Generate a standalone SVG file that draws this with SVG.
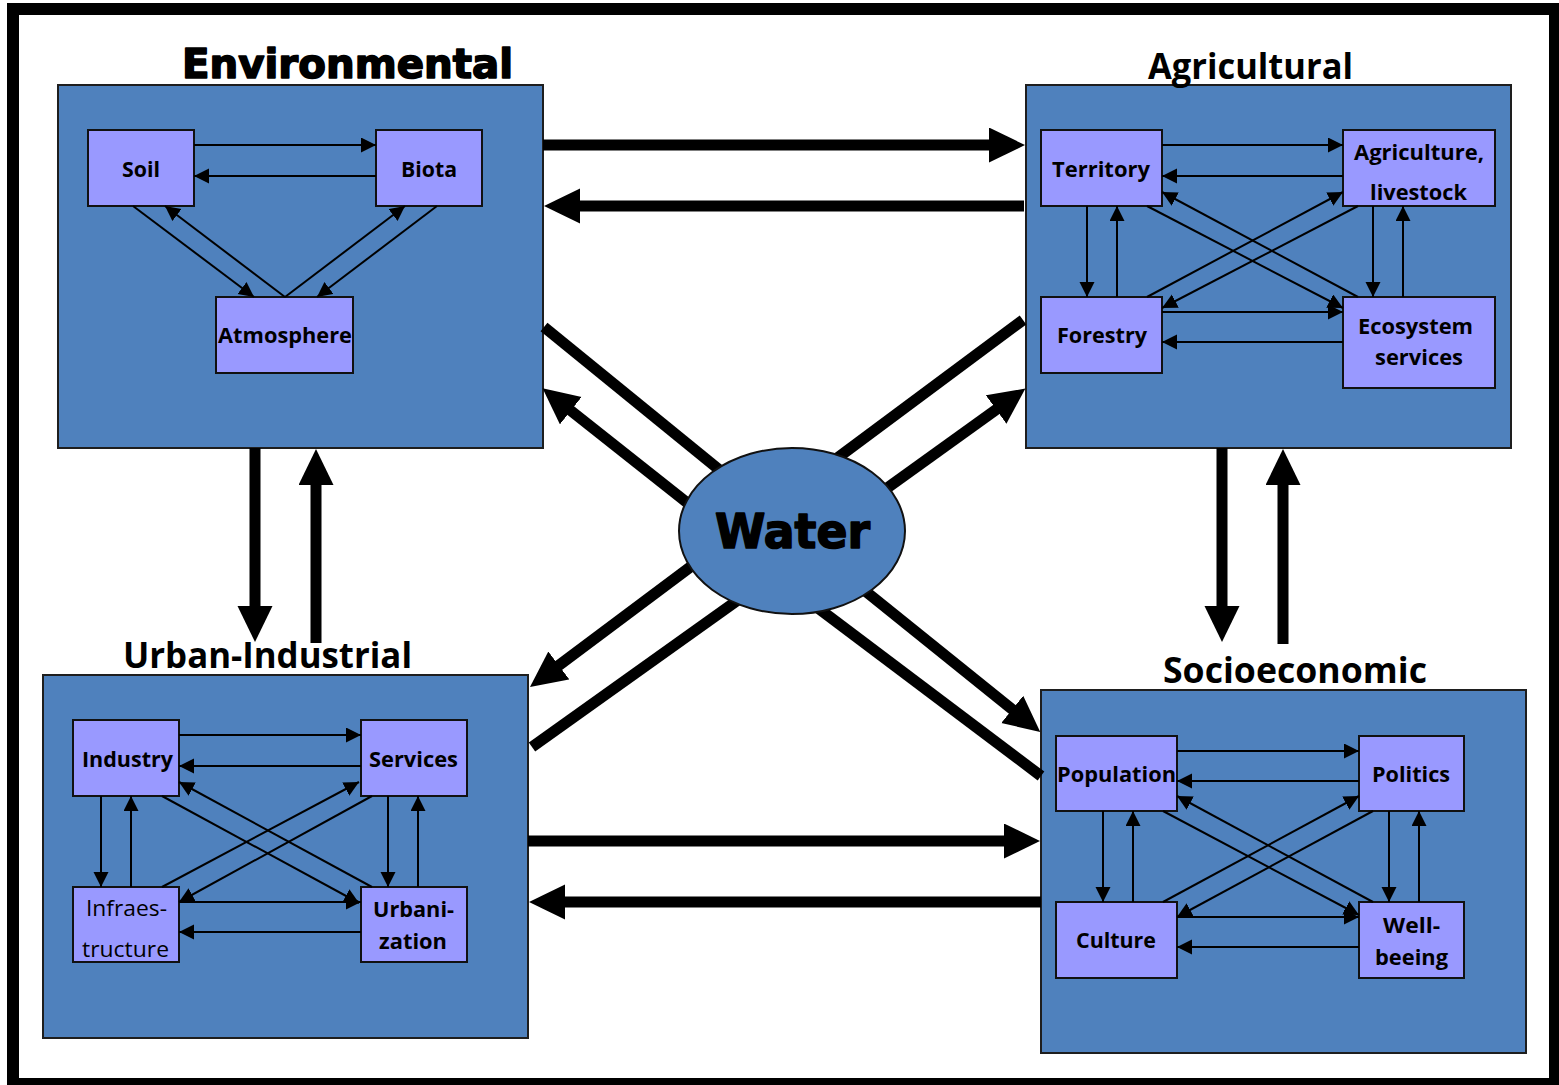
<svg xmlns="http://www.w3.org/2000/svg" width="1559" height="1085" viewBox="0 0 1559 1085">
  <defs>
    <style>
      .frame { fill: #ffffff; stroke: #000000; stroke-width: 12; }
      .sector { fill: #4f81bd; stroke: #1e1e1e; stroke-width: 2; }
      .node { fill: #9999ff; stroke: #111111; stroke-width: 2; }
      .title { font-family: "Open Sans", "Liberation Sans", sans-serif; font-weight: 700; font-size: 36px; fill: #000; }
      .heavy { font-family: "DejaVu Sans", "Liberation Sans", sans-serif; font-weight: 700; fill: #000; stroke: #000; stroke-width: 1.6; stroke-linejoin: round; }
      .lbl { font-family: "Open Sans", "Liberation Sans", sans-serif; font-weight: 700; font-size: 22px; fill: #000; }
      .lbl-r { font-family: "Open Sans", "Liberation Sans", sans-serif; font-weight: 400; font-size: 22px; fill: #000; }
      .thin { stroke: #000; stroke-width: 2; fill: none; marker-end: url(#ah); }
      .thick { stroke: #000; stroke-width: 11; fill: none; }
      .thick-a { stroke: #000; stroke-width: 11; fill: none; marker-end: url(#AH); }
      .water { fill: #4f81bd; stroke: #111111; stroke-width: 2; }
    </style>
    <marker id="ah" markerUnits="userSpaceOnUse" viewBox="0 0 16 16" markerWidth="16" markerHeight="16" refX="15" refY="7.5" orient="auto">
      <path d="M0,0 L15,7.5 L0,15 z" fill="#000"/>
    </marker>
    <marker id="AH" markerUnits="userSpaceOnUse" viewBox="0 0 37 36" markerWidth="37" markerHeight="36" refX="1" refY="17.5" orient="auto">
      <path d="M0,0 L36,17.5 L0,35 z" fill="#000"/>
    </marker>
  </defs>

  <!-- outer frame -->
  <rect class="frame" x="13" y="9" width="1542" height="1075"/>

  <!-- sector containers -->
  <g id="environmental">
    <rect class="sector" x="58" y="85" width="485" height="363"/>
    <text class="heavy" x="182" y="78" font-size="40" textLength="331" lengthAdjust="spacingAndGlyphs">Environmental</text>
  </g>
  <g id="agricultural">
    <rect class="sector" x="1026" y="85" width="485" height="363"/>
    <text class="title" x="1148" y="79" textLength="205" lengthAdjust="spacingAndGlyphs">Agricultural</text>
  </g>
  <g id="urban-industrial">
    <rect class="sector" x="43" y="675" width="485" height="363"/>
    <text class="title" x="123" y="668" textLength="289" lengthAdjust="spacingAndGlyphs">Urban-Industrial</text>
  </g>
  <g id="socioeconomic">
    <rect class="sector" x="1041" y="690" width="485" height="363"/>
    <text class="title" x="1163" y="683" textLength="264" lengthAdjust="spacingAndGlyphs">Socioeconomic</text>
  </g>

  <!-- environmental nodes -->
  <g id="soil">
    <rect class="node" x="88" y="130" width="106" height="76"/>
    <text class="lbl" x="122" y="177" textLength="38" lengthAdjust="spacingAndGlyphs">Soil</text>
  </g>
  <g id="biota">
    <rect class="node" x="376" y="130" width="106" height="76"/>
    <text class="lbl" x="401" y="177" textLength="56" lengthAdjust="spacingAndGlyphs">Biota</text>
  </g>
  <g id="atmosphere">
    <rect class="node" x="216" y="297" width="137" height="76"/>
    <text class="lbl" x="218" y="343" textLength="134" lengthAdjust="spacingAndGlyphs">Atmosphere</text>
  </g>

  <!-- agricultural nodes -->
  <g id="territory">
    <rect class="node" x="1041" y="130" width="121" height="76"/>
    <text class="lbl" x="1052" y="177" textLength="98" lengthAdjust="spacingAndGlyphs">Territory</text>
  </g>
  <g id="agriculture-livestock">
    <rect class="node" x="1343" y="130" width="152" height="76"/>
    <text class="lbl" x="1354" y="160" textLength="130" lengthAdjust="spacingAndGlyphs">Agriculture,</text>
    <text class="lbl" x="1370" y="200" textLength="97" lengthAdjust="spacingAndGlyphs">livestock</text>
  </g>
  <g id="forestry">
    <rect class="node" x="1041" y="297" width="121" height="76"/>
    <text class="lbl" x="1057" y="343" textLength="90" lengthAdjust="spacingAndGlyphs">Forestry</text>
  </g>
  <g id="ecosystem-services">
    <rect class="node" x="1343" y="297" width="152" height="91"/>
    <text class="lbl" x="1358" y="334" textLength="115" lengthAdjust="spacingAndGlyphs">Ecosystem</text>
    <text class="lbl" x="1375" y="365" textLength="88" lengthAdjust="spacingAndGlyphs">services</text>
  </g>

  <!-- urban-industrial nodes -->
  <g id="industry">
    <rect class="node" x="73" y="720" width="106" height="76"/>
    <text class="lbl" x="82" y="767" textLength="91" lengthAdjust="spacingAndGlyphs">Industry</text>
  </g>
  <g id="services">
    <rect class="node" x="361" y="720" width="106" height="76"/>
    <text class="lbl" x="369" y="767" textLength="89" lengthAdjust="spacingAndGlyphs">Services</text>
  </g>
  <g id="infraestructure">
    <rect class="node" x="73" y="887" width="106" height="75"/>
    <text class="lbl-r" x="86" y="916" textLength="81" lengthAdjust="spacingAndGlyphs">Infraes-</text>
    <text class="lbl-r" x="82" y="957" textLength="87" lengthAdjust="spacingAndGlyphs">tructure</text>
  </g>
  <g id="urbanization">
    <rect class="node" x="361" y="887" width="106" height="75"/>
    <text class="lbl" x="373" y="917" textLength="81" lengthAdjust="spacingAndGlyphs">Urbani-</text>
    <text class="lbl" x="379" y="949" textLength="68" lengthAdjust="spacingAndGlyphs">zation</text>
  </g>

  <!-- socioeconomic nodes -->
  <g id="population">
    <rect class="node" x="1056" y="736" width="121" height="75"/>
    <text class="lbl" x="1057" y="782" textLength="119" lengthAdjust="spacingAndGlyphs">Population</text>
  </g>
  <g id="politics">
    <rect class="node" x="1359" y="736" width="105" height="75"/>
    <text class="lbl" x="1372" y="782" textLength="78" lengthAdjust="spacingAndGlyphs">Politics</text>
  </g>
  <g id="culture">
    <rect class="node" x="1056" y="902" width="121" height="76"/>
    <text class="lbl" x="1076" y="948" textLength="80" lengthAdjust="spacingAndGlyphs">Culture</text>
  </g>
  <g id="well-beeing">
    <rect class="node" x="1359" y="902" width="105" height="76"/>
    <text class="lbl" x="1383" y="933" textLength="57" lengthAdjust="spacingAndGlyphs">Well-</text>
    <text class="lbl" x="1375" y="965" textLength="73" lengthAdjust="spacingAndGlyphs">beeing</text>
  </g>

  <!-- connectors -->
  <g id="connectors">
    <!-- environmental internal links -->
    <line class="thin" x1="194" y1="145" x2="376" y2="145"/>
    <line class="thin" x1="376" y1="176" x2="194" y2="176"/>
    <line class="thin" x1="133" y1="206" x2="254" y2="297"/>
    <line class="thin" x1="285" y1="297" x2="165" y2="206"/>
    <line class="thin" x1="285" y1="297" x2="405" y2="206"/>
    <line class="thin" x1="437" y1="206" x2="317" y2="297"/>

    <!-- agricultural internal links -->
    <line class="thin" x1="1162" y1="145" x2="1343" y2="145"/>
    <line class="thin" x1="1343" y1="176" x2="1162" y2="176"/>
    <line class="thin" x1="1087" y1="206" x2="1087" y2="297"/>
    <line class="thin" x1="1117" y1="297" x2="1117" y2="206"/>
    <line class="thin" x1="1373" y1="206" x2="1373" y2="297"/>
    <line class="thin" x1="1403" y1="297" x2="1403" y2="206"/>
    <line class="thin" x1="1162" y1="312" x2="1343" y2="312"/>
    <line class="thin" x1="1343" y1="342" x2="1162" y2="342"/>
    <line class="thin" x1="1147" y1="206" x2="1343" y2="308"/>
    <line class="thin" x1="1358" y1="297" x2="1162" y2="192"/>
    <line class="thin" x1="1147" y1="297" x2="1343" y2="192"/>
    <line class="thin" x1="1358" y1="206" x2="1162" y2="308"/>

    <!-- urban-industrial internal links -->
    <line class="thin" x1="179" y1="735" x2="361" y2="735"/>
    <line class="thin" x1="361" y1="766" x2="179" y2="766"/>
    <line class="thin" x1="101" y1="796" x2="101" y2="887"/>
    <line class="thin" x1="131" y1="887" x2="131" y2="796"/>
    <line class="thin" x1="388" y1="796" x2="388" y2="887"/>
    <line class="thin" x1="418" y1="887" x2="418" y2="796"/>
    <line class="thin" x1="179" y1="902" x2="361" y2="902"/>
    <line class="thin" x1="361" y1="932" x2="179" y2="932"/>
    <line class="thin" x1="162" y1="796" x2="359" y2="903"/>
    <line class="thin" x1="372" y1="887" x2="179" y2="782"/>
    <line class="thin" x1="162" y1="887" x2="359" y2="782"/>
    <line class="thin" x1="372" y1="796" x2="179" y2="902"/>

    <!-- socioeconomic internal links -->
    <line class="thin" x1="1177" y1="751" x2="1359" y2="751"/>
    <line class="thin" x1="1359" y1="781" x2="1177" y2="781"/>
    <line class="thin" x1="1103" y1="811" x2="1103" y2="902"/>
    <line class="thin" x1="1133" y1="902" x2="1133" y2="811"/>
    <line class="thin" x1="1389" y1="811" x2="1389" y2="902"/>
    <line class="thin" x1="1419" y1="902" x2="1419" y2="811"/>
    <line class="thin" x1="1177" y1="917" x2="1359" y2="917"/>
    <line class="thin" x1="1359" y1="947" x2="1177" y2="947"/>
    <line class="thin" x1="1163" y1="811" x2="1359" y2="915"/>
    <line class="thin" x1="1373" y1="902" x2="1177" y2="796"/>
    <line class="thin" x1="1163" y1="902" x2="1359" y2="796"/>
    <line class="thin" x1="1373" y1="811" x2="1177" y2="917"/>

    <!-- sector to sector flows -->
    <line class="thick-a" x1="543" y1="145" x2="990" y2="145"/>
    <line class="thick-a" x1="1024" y1="206" x2="579" y2="206"/>
    <line class="thick-a" x1="255" y1="448" x2="255" y2="607"/>
    <line class="thick-a" x1="316" y1="643" x2="316" y2="484"/>
    <line class="thick-a" x1="1222" y1="448" x2="1222" y2="607"/>
    <line class="thick-a" x1="1283" y1="644" x2="1283" y2="484"/>
    <line class="thick-a" x1="528" y1="841" x2="1005" y2="841"/>
    <line class="thick-a" x1="1041" y1="902" x2="564" y2="902"/>

    <!-- flows between water and the sectors -->
    <line class="thick" x1="544" y1="327" x2="722" y2="472"/>
    <line class="thick-a" x1="690" y1="505" x2="570" y2="410"/>
    <line class="thick" x1="1023" y1="320" x2="836" y2="459"/>
    <line class="thick-a" x1="883" y1="491" x2="997" y2="409"/>
    <line class="thick-a" x1="693" y1="565" x2="558" y2="666"/>
    <line class="thick" x1="532" y1="747" x2="738" y2="600"/>
    <line class="thick-a" x1="864" y1="590" x2="1013" y2="710"/>
    <line class="thick" x1="818" y1="608" x2="1041" y2="776"/>
  </g>

  <!-- central water node -->
  <g id="water">
    <ellipse class="water" cx="792" cy="531" rx="113" ry="83"/>
    <text class="heavy" x="715" y="548" font-size="48" textLength="155" lengthAdjust="spacingAndGlyphs">Water</text>
  </g>
</svg>
